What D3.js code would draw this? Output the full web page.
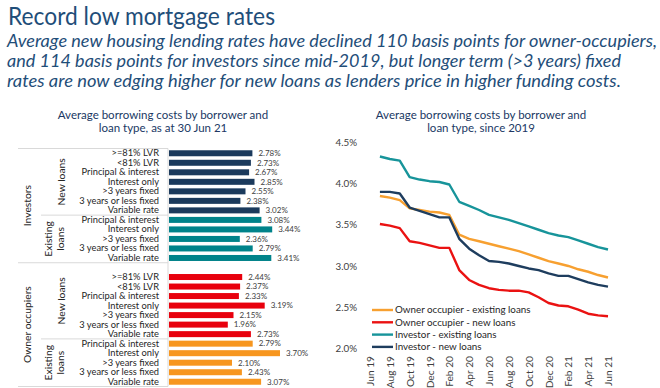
<!DOCTYPE html>
<html>
<head>
<meta charset="utf-8">
<script src="https://cdn.jsdelivr.net/npm/d3@7"></script>
<style>
  body {margin: 0; background: #fff;}
  svg {display: block; font-family: Lato, "Open Sans", sans-serif;}
</style>
</head>
<body>
<svg id="chart" width="660" height="388"></svg>
<script>
// bar chart data (as at 30 Jun 21)
var newLabels = [">=81% LVR", "<81% LVR", "Principal & interest", "Interest only", ">3 years fixed", "3 years or less fixed", "Variable rate"];
var existingLabels = ["Principal & interest", "Interest only", ">3 years fixed", "3 years or less fixed", "Variable rate"];
var investorNew = [2.78, 2.73, 2.67, 2.85, 2.55, 2.38, 3.02];
var investorExisting = [3.08, 3.44, 2.36, 2.79, 3.41];
var ownerNew = [2.44, 2.37, 2.33, 3.19, 2.15, 1.96, 2.73];
var ownerExisting = [2.79, 3.70, 2.10, 2.43, 3.07];

// line chart data (monthly, since 2019)
var months = ["Jun 19", "Jul 19", "Aug 19", "Sep 19", "Oct 19", "Nov 19", "Dec 19", "Jan 20", "Feb 20", "Mar 20", "Apr 20", "May 20", "Jun 20",
  "Jul 20", "Aug 20", "Sep 20", "Oct 20", "Nov 20", "Dec 20", "Jan 21", "Feb 21", "Mar 21", "Apr 21", "May 21", "Jun 21"];
var ooExistingRate = [null, 3.85, 3.83, 3.80, 3.70, 3.68, 3.66, 3.65, 3.62, 3.38, 3.33, 3.30, 3.27, 3.24, 3.21, 3.18, 3.14, 3.10, 3.06, 3.03, 3.00, 2.96, 2.93, 2.89, 2.86];
var ooNewRate = [null, 3.51, 3.49, 3.46, 3.30, 3.28, 3.25, 3.22, 3.22, 2.95, 2.83, 2.77, 2.73, 2.71, 2.70, 2.70, 2.68, 2.62, 2.55, 2.52, 2.51, 2.47, 2.42, 2.40, 2.39];
var invExistingRate = [null, 4.33, 4.30, 4.28, 4.08, 4.05, 4.03, 4.02, 3.99, 3.78, 3.73, 3.68, 3.62, 3.59, 3.56, 3.52, 3.48, 3.44, 3.40, 3.37, 3.35, 3.31, 3.27, 3.23, 3.20];
var invNewRate = [null, 3.90, 3.90, 3.88, 3.71, 3.67, 3.63, 3.59, 3.59, 3.33, 3.21, 3.13, 3.06, 3.05, 3.03, 3.00, 2.97, 2.95, 2.91, 2.88, 2.88, 2.84, 2.80, 2.77, 2.75];
var yTicks = [2.0, 2.5, 3.0, 3.5, 4.0, 4.5];
var seriesNames = ["Owner occupier - existing loans", "Owner occupier - new loans", "Investor - existing loans", "Investor - new loans"];

var blue = "#1f4e79";
var svg = d3.select("#chart");

// heading
svg.append("text").attr("x", 8).attr("y", 25)
  .attr("textLength", 267).attr("lengthAdjust", "spacingAndGlyphs")
  .style("font-size", "25px").style("fill", blue)
  .text("Record low mortgage rates");

var subLines = [
  "Average new housing lending rates have declined 110 basis points for owner-occupiers,",
  "and 114 basis points for investors since mid-2019, but longer term (>3 years) fixed",
  "rates are now edging higher for new loans as lenders price in higher funding costs."
];
var subWidths = [650, 614, 614];
svg.selectAll(".sub").data(subLines).enter().append("text")
  .attr("x", 7).attr("y", function(d, i) { return 46.5 + i * 20; })
  .attr("textLength", function(d, i) { return subWidths[i]; })
  .attr("lengthAdjust", "spacingAndGlyphs")
  .style("font-size", "16.5px").style("font-style", "italic").style("fill", blue)
  .text(function(d) { return d; });

// ---------- left: bar chart ----------
var rows = [];
newLabels.forEach(function(l, i) { rows.push({label: l, value: investorNew[i], color: "#1b3a5c"}); });
existingLabels.forEach(function(l, i) { rows.push({label: l, value: investorExisting[i], color: "#00838a"}); });
rows.push(null);
newLabels.forEach(function(l, i) { rows.push({label: l, value: ownerNew[i], color: "#e8000d"}); });
existingLabels.forEach(function(l, i) { rows.push({label: l, value: ownerExisting[i], color: "#f7961f"}); });

var yBar = d3.scaleBand().domain(d3.range(rows.length)).range([148.5, 386.5])
  .paddingInner(0.37).paddingOuter(0.185);
var xBar = d3.scaleLinear().domain([0, 4]).range([169, 289]);
var step = yBar.step();
function edge(i) { return yBar(i) - (step - yBar.bandwidth()) / 2; }

var left = svg.append("g");
left.selectAll(".ttl").data(["Average borrowing costs by borrower and", "loan type, as at 30 Jun 21"]).enter()
  .append("text").attr("x", 163).attr("y", function(d, i) { return 119 + i * 13; })
  .attr("text-anchor", "middle").style("font-size", "11.5px").style("fill", "#203864")
  .text(function(d) { return d; });

var bars = rows.map(function(r, i) { return r ? {i: i, label: r.label, value: r.value, color: r.color} : null; })
  .filter(function(r) { return r; });

left.selectAll(".bar").data(bars).enter().append("rect")
  .attr("x", xBar(0)).attr("y", function(d) { return yBar(d.i); })
  .attr("width", function(d) { return xBar(d.value) - xBar(0); })
  .attr("height", yBar.bandwidth())
  .style("fill", function(d) { return d.color; });

left.selectAll(".val").data(bars).enter().append("text")
  .attr("x", function(d) { return xBar(d.value) + 6; })
  .attr("y", function(d) { return yBar(d.i) + yBar.bandwidth() / 2; })
  .attr("dy", "0.35em").style("font-size", "8px").style("fill", "#404040")
  .text(function(d) { return d.value.toFixed(2) + "%"; });

var catAxis = d3.axisLeft(yBar).tickSize(0).tickPadding(9)
  .tickValues(bars.map(function(d) { return d.i; }))
  .tickFormat(function(i) { return rows[i].label; });
var catG = left.append("g").attr("transform", "translate(168,0)").call(catAxis);
catG.select(".domain").remove();
catG.selectAll("text").style("font-size", "9.3px").style("fill", "#262626").style("font-family", "Lato, sans-serif");

// group dividers
var outer = [edge(0), edge(12), edge(24) + step];
var inner = [edge(7), edge(20)];
left.selectAll(".outer").data(outer).enter().append("line")
  .attr("x1", 18).attr("x2", 168).attr("y1", function(d) { return d; }).attr("y2", function(d) { return d; })
  .style("stroke", "#d9d9d9");
left.selectAll(".inner").data(inner).enter().append("line")
  .attr("x1", 41).attr("x2", 168).attr("y1", function(d) { return d; }).attr("y2", function(d) { return d; })
  .style("stroke", "#d9d9d9");
left.append("line").attr("x1", 168).attr("x2", 168).attr("y1", edge(0)).attr("y2", edge(24) + step)
  .style("stroke", "#d9d9d9");

var groupLabels = [
  {lines: ["Investors"], x: [27], y: (outer[0] + outer[1]) / 2},
  {lines: ["New loans"], x: [61], y: (outer[0] + inner[0]) / 2},
  {lines: ["Existing", "loans"], x: [48, 60], y: (inner[0] + outer[1]) / 2},
  {lines: ["Owner occupiers"], x: [27], y: (outer[1] + outer[2]) / 2},
  {lines: ["New loans"], x: [61], y: (outer[1] + inner[1]) / 2},
  {lines: ["Existing", "loans"], x: [48, 60], y: (inner[1] + outer[2]) / 2}
];
groupLabels.forEach(function(g) {
  g.lines.forEach(function(t, k) {
    left.append("text")
      .attr("transform", "translate(" + g.x[k] + "," + g.y + ") rotate(-90)")
      .attr("text-anchor", "middle").attr("dy", "0.35em")
      .style("font-size", "10.3px").style("fill", "#262626")
      .text(t);
  });
});

// ---------- right: line chart ----------
var right = svg.append("g");
right.selectAll(".ttl").data(["Average borrowing costs by borrower and", "loan type, since 2019"]).enter()
  .append("text").attr("x", 481).attr("y", function(d, i) { return 119 + i * 13; })
  .attr("text-anchor", "middle").style("font-size", "11.5px").style("fill", "#203864")
  .text(function(d) { return d; });

var xLine = d3.scalePoint().domain(months).range([370, 608]);
var yLine = d3.scaleLinear().domain([2.0, 4.5]).range([348.3, 142.5]);

var yAxis = d3.axisLeft(yLine).tickValues(yTicks).tickSize(0).tickPadding(0)
  .tickFormat(function(d) { return d3.format(".1f")(d) + "%"; });
var yG = right.append("g").attr("transform", "translate(357,0)").call(yAxis);
yG.select(".domain").remove();
yG.selectAll("text").style("font-size", "9.8px").style("fill", "#404040").style("font-family", "Lato, sans-serif");

var xAxis = d3.axisBottom(xLine).tickSize(0)
  .tickValues(months.filter(function(d, i) { return i % 2 === 0; }));
var xG = right.append("g").attr("transform", "translate(0,356)").call(xAxis);
xG.select(".domain").remove();
xG.selectAll("text")
  .attr("y", 0).attr("x", 0).attr("dy", "0.35em")
  .attr("transform", "rotate(-90)").attr("text-anchor", "end")
  .style("font-size", "10.2px").style("fill", "#404040").style("font-family", "Lato, sans-serif");

var series = [
  {name: seriesNames[0], values: ooExistingRate, color: "#f7a030"},
  {name: seriesNames[1], values: ooNewRate, color: "#ea1212"},
  {name: seriesNames[2], values: invExistingRate, color: "#17949a"},
  {name: seriesNames[3], values: invNewRate, color: "#1e3d5e"}
];
var line = d3.line()
  .defined(function(d) { return d != null; })
  .x(function(d, i) { return xLine(months[i]); })
  .y(function(d) { return yLine(d); });

right.selectAll(".series").data(series).enter().append("path")
  .attr("d", function(s) { return line(s.values); })
  .style("fill", "none").style("stroke", function(s) { return s.color; })
  .style("stroke-width", 2.4).style("stroke-linejoin", "round");

var legend = right.selectAll(".leg").data(series).enter().append("g")
  .attr("transform", function(d, i) { return "translate(372," + (310 + i * 12.3) + ")"; });
legend.append("line").attr("x1", 0).attr("x2", 21)
  .style("stroke", function(d) { return d.color; }).style("stroke-width", 2.4);
legend.append("text").attr("x", 23).attr("dy", "0.35em")
  .style("font-size", "9.8px").style("fill", "#262626")
  .text(function(d) { return d.name; });
</script>
</body>
</html>
